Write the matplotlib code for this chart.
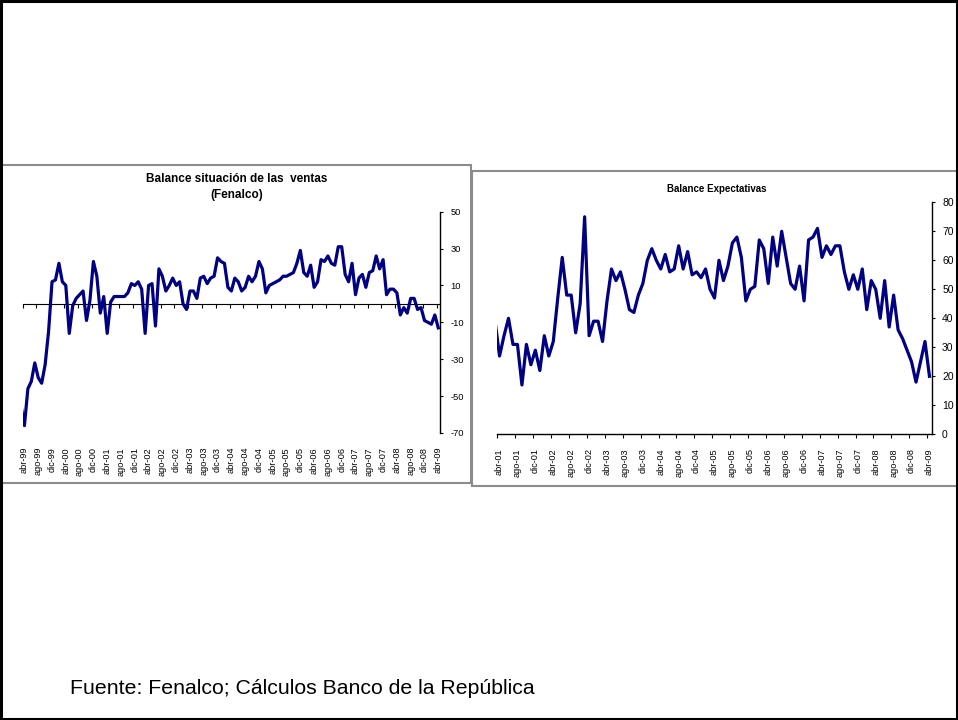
import matplotlib
matplotlib.use('Agg')
import matplotlib.pyplot as plt
from matplotlib.patches import Rectangle
from matplotlib.ticker import FixedLocator, NullFormatter
import numpy as np

plt.rcParams['font.family'] = ['Liberation Sans', 'DejaVu Sans']
plt.rcParams['axes.unicode_minus'] = False

MESES = ['ene', 'feb', 'mar', 'abr', 'may', 'jun', 'jul', 'ago', 'sep', 'oct', 'nov', 'dic']


def month_range(y0, m0, n):
    out = []
    y, m = y0, m0
    for _ in range(n):
        out.append(f"{MESES[m - 1]}-{y % 100:02d}")
        m += 1
        if m > 12:
            m = 1
            y += 1
    return out


# ---------------- data ----------------
# Balance situación de las ventas (Fenalco), mar-99 .. abr-09
ventas = [-55,
          -66, -46, -42, -32, -40, -43, -33, -15, 12, 13,
          22, 12, 10, -16, -1, 3, 5, 7, -9, 2,
          23, 15, -5, 4, -16, 1, 4, 4, 4, 4,
          6, 11, 10, 12, 8, -16, 10, 11, -12, 19,
          15, 7, 10, 14, 10, 12, 0, -3, 7, 7,
          3, 14, 15, 11, 14, 15, 25, 23, 22, 9,
          7, 14, 12, 7, 9, 15, 12, 15, 23, 19,
          6, 10, 11, 12, 13, 15, 15, 16, 17, 22,
          29, 17, 15, 21, 9, 12, 24, 23, 26, 22,
          21, 31, 31, 16, 12, 22, 5, 14, 16, 9,
          17, 18, 26, 19, 24, 5, 8, 8, 6, -6,
          -2, -5, 3, 3, -3, -2, -9, -10, -11, -6, -13]
meses_ventas = month_range(1999, 3, len(ventas))

# Balance Expectativas, mar-01 .. abr-09
expectativas = [39,
                27, 34, 40, 31, 31, 17, 31, 24, 29, 22,
                34, 27, 32, 47, 61, 48, 48, 35, 45, 75,
                34, 39, 39, 32, 46, 57, 53, 56, 50, 43,
                42, 48, 52, 60, 64, 60, 57, 62, 56, 57,
                65, 57, 63, 55, 56, 54, 57, 50, 47, 60,
                53, 58, 66, 68, 61, 46, 50, 51, 67, 64,
                52, 68, 58, 70, 61, 52, 50, 58, 46, 67,
                68, 71, 61, 65, 62, 65, 65, 56, 50, 55,
                50, 57, 43, 53, 50, 40, 53, 37, 48, 36,
                33, 29, 25, 18, 25, 32, 20]
meses_expect = month_range(2001, 3, len(expectativas))

LABEL_MONTHS = ('abr', 'ago', 'dic')

W, H = 958, 720
fig = plt.figure(figsize=(W / 100, H / 100), dpi=100)
fig.patch.set_facecolor('white')

LINE = '#000080'


def fx(px):
    return px / W


def fy(py):
    return 1 - py / H


def setup_x(ax, cats):
    n = len(cats)
    x = np.arange(n)
    idx = [i for i, c in enumerate(cats) if i >= 1 and c.split('-')[0] in LABEL_MONTHS]
    ax.set_xlim(0.5, n - 0.5)
    ax.set_xticks(idx)
    ax.set_xticklabels([cats[i] for i in idx], rotation=90, fontsize=6.6)
    bounds = [i - 0.5 for i in idx]
    return x, bounds


# ---------------- left chart ----------------
axL = fig.add_axes([fx(22.7), fy(433), fx(417.3), 221.3 / H])
xL, bL = setup_x(axL, meses_ventas)
axL.plot(xL, ventas, color=LINE, lw=2.3, solid_joinstyle='round', clip_on=True)
axL.set_ylim(-70, 50)
axL.set_yticks(np.arange(-70, 51, 20))
axL.yaxis.tick_right()
axL.tick_params(axis='y', which='major', direction='out', length=2.5, width=0.8,
                labelsize=6.7, pad=5)
axL.tick_params(axis='x', which='major', length=0, pad=10)
for s in ('left', 'top', 'bottom'):
    axL.spines[s].set_visible(False)
axL.spines['right'].set_linewidth(1.0)
zero_frac = (0 - (-70)) / (50 - (-70))
sec = axL.secondary_xaxis(zero_frac)
sec.set_xticks(bL)
sec.xaxis.set_major_formatter(NullFormatter())
sec.tick_params(axis='x', direction='in', length=3, width=0.8)
sec.spines['bottom'].set_linewidth(1.0)

fig.text(fx(237), fy(179.3), 'Balance situación de las  ventas', ha='center', va='center',
         fontsize=8.5, fontweight='bold')
fig.text(fx(236.5), fy(195), '(Fenalco)', ha='center', va='center',
         fontsize=8.5, fontweight='bold')

# ---------------- right chart ----------------
axR = fig.add_axes([fx(497.3), fy(434.3), fx(434.4), 232 / H])
xR, bR = setup_x(axR, meses_expect)
axR.plot(xR, expectativas, color=LINE, lw=2.3, solid_joinstyle='round', clip_on=True)
axR.set_ylim(0, 80)
axR.set_yticks(np.arange(0, 81, 10))
axR.yaxis.tick_right()
axR.tick_params(axis='y', which='major', direction='out', length=2.5, width=0.8,
                labelsize=7.5, pad=5)
axR.xaxis.set_minor_locator(FixedLocator(bR))
axR.tick_params(axis='x', which='major', length=0, pad=10)
axR.tick_params(axis='x', which='minor', direction='out', length=3, width=0.8)
for s in ('left', 'top'):
    axR.spines[s].set_visible(False)
axR.spines['right'].set_linewidth(1.0)
axR.spines['bottom'].set_linewidth(1.0)

fig.text(fx(717), fy(189), 'Balance Expectativas', ha='center', va='center',
         fontsize=7, fontweight='bold')

# ---------------- boxes and footer ----------------
fig.patches.append(Rectangle((fx(0), fy(483)), fx(471), (483 - 165) / H,
                             transform=fig.transFigure, fill=False,
                             edgecolor='#8c8c8c', lw=1.5))
fig.patches.append(Rectangle((fx(472), fy(486)), fx(486), (486 - 170.7) / H,
                             transform=fig.transFigure, fill=False,
                             edgecolor='#8c8c8c', lw=1.5))
fig.patches.append(Rectangle((fx(1), fy(719)), fx(956), 718 / H,
                             transform=fig.transFigure, fill=False,
                             edgecolor='black', lw=2.2))

fig.text(fx(70), fy(689), 'Fuente: Fenalco; Cálculos Banco de la República',
         ha='left', va='center', fontsize=15.3)

fig.savefig('out.png', dpi=100)
